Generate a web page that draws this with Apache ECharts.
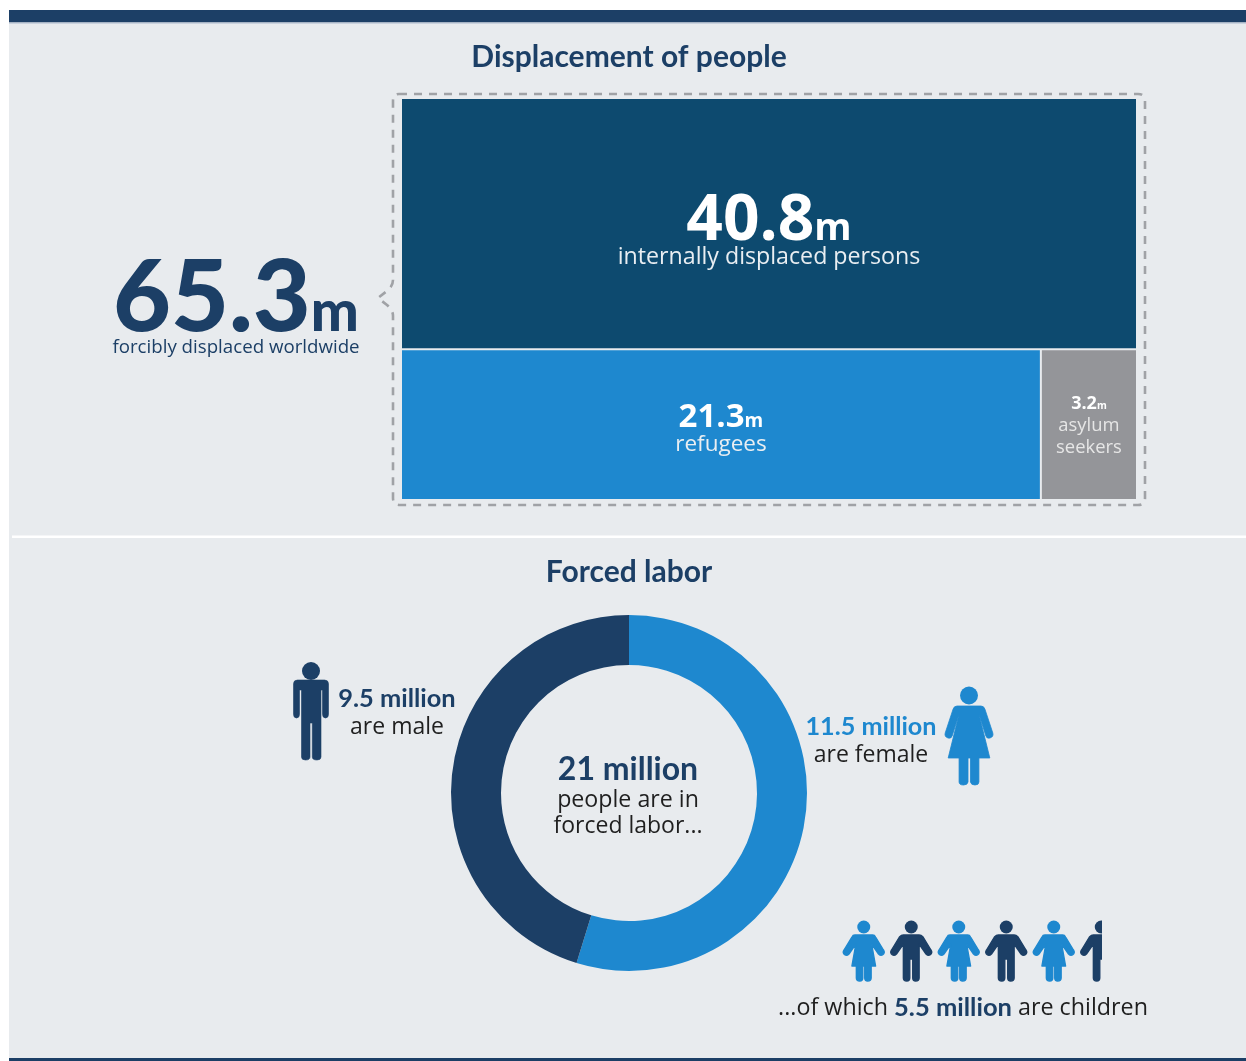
<!DOCTYPE html>
<html>
<head>
<meta charset="utf-8">
<title>Displacement of people and forced labor</title>
<script src="https://cdn.jsdelivr.net/npm/echarts@6/dist/echarts.min.js"></script>
<style>
  html, body { margin: 0; padding: 0; background: #fff; }
  #chart { width: 1246px; height: 1061px; }
</style>
</head>
<body>
<div id="chart"></div>
<script>
// Displacement figures, in millions
const displacedTotal = 65.3;
const displacementNames = ['internally displaced persons', 'refugees', 'asylum seekers'];
const displacementValues = [40.8, 21.3, 3.2];

// Forced labor figures, in millions
const laborTotal = 21;
const laborNames = ['are female', 'are male'];
const laborValues = [11.5, 9.5];
const childrenInLabor = 5.5;

const NAVY = '#1c3f66';
const BLUE = '#1e88cf';
const PETROL = '#0d4a6f';
const GREY = '#949599';
const PANEL = '#e8ebee';
const INK = '#1f1f1f';
const HEAD_FONT = 'Lato';
const BODY_FONT = '"Open Sans"';

const bottomRow = displacementValues[1] + displacementValues[2];

// Outlines for the pictograms and the dashed brace, each in page pixels
const manBody = 'M4 0H31Q35 0 35 4V34Q35 38 32 38Q29 38 29 34V10H27.5V77Q27.5 80 23.5 80Q18.8 80 18.8 77V43H16.5V77Q16.5 80 12 80Q8 80 8 77V10H6V34Q6 38 3 38Q0 38 0 34V4Q0 0 4 0Z';
const womanBody = 'M12 0H36Q39 0 40 3L48 27Q49 31 45 32Q42 33 41 30L34 8L45 52H34V76Q34 79 30 79Q26 79 25.5 76V52H23V76Q22.5 79 18.5 79Q14 79 14 76V52H3L14 8L7 30Q6 33 3 32Q-1 31 0 27L8 3Q9 0 12 0Z';
const boyBody = 'M-8 0H8Q10 0 12 2L20 15Q22 18 19 20Q17 21 15 19L8 9V43Q8 46 4.5 46Q1.5 46 1.5 43V24H-1.5V43Q-1.5 46 -4.5 46Q-8 46 -8 43V9L-15 19Q-17 21 -19 20Q-22 18 -20 15L-12 2Q-10 0 -8 0Z';
const girlBody = 'M-9 0H9Q11 0 12 2L20 15Q22 18 19 20Q17 21 15 19L8 9L12 31H7.5V43Q7.5 46 4 46Q1 46 1 43V31H-1V43Q-1 46 -4 46Q-7.5 46 -7.5 43V31H-12L-8 9L-15 19Q-17 21 -19 20Q-22 18 -20 15L-12 2Q-11 0 -9 0Z';
const braceOutline = 'M399 94H1138Q1145 94 1145 101V498Q1145 505 1138 505H400Q393 505 393 498V316Q393 310 387 305L378 298L387 291Q393 286 393 280V101Q393 94 399 94Z';

function pathEl(pathData, x, y, width, height, fill, thicken) {
  return {
    type: 'path',
    shape: { pathData, x, y, width, height, layout: 'cover' },
    style: { fill, stroke: fill, lineWidth: thicken, lineJoin: 'round' }
  };
}

function headEl(cx, cy, r, fill) {
  return { type: 'circle', shape: { cx, cy, r }, style: { fill } };
}

function textEl(text, x, y, font, fill) {
  return {
    type: 'text',
    x, y,
    style: { text, font, fill, align: 'center', verticalAlign: 'middle' }
  };
}

// Value followed by a smaller "m" sitting on the same baseline
function amountEl(value, x, y, numSize, unitSize, fill, family) {
  return {
    type: 'text',
    x, y,
    style: {
      text: '{n|' + value.toFixed(1) + '}{u|m}',
      align: 'center',
      verticalAlign: 'middle',
      rich: {
        n: { fontFamily: family, fontWeight: 700, fontSize: numSize, fill, verticalAlign: 'bottom' },
        u: {
          fontFamily: family, fontWeight: 700, fontSize: unitSize, fill, verticalAlign: 'bottom',
          padding: [0, 0, (numSize - unitSize) * 0.21, 0]
        }
      }
    }
  };
}

// Rectangles sized by area: the largest group spans the top, the other two share the row below
const blocks = [
  { x0: 0, x1: bottomRow, y0: bottomRow, y1: displacedTotal, fill: PETROL, idx: 0 },
  { x0: 0, x1: displacementValues[1], y0: 0, y1: bottomRow, fill: BLUE, idx: 1 },
  { x0: displacementValues[1], x1: bottomRow, y0: 0, y1: bottomRow, fill: GREY, idx: 2 }
];

function renderBlock(params, api) {
  const b = blocks[api.value(0)];
  const tl = api.coord([b.x0, b.y1]);
  const br = api.coord([b.x1, b.y0]);
  const x = tl[0] + 1, y = tl[1] + 1, w = br[0] - tl[0] - 2, h = br[1] - tl[1] - 2;
  const cx = x + w / 2, cy = y + h / 2;
  const value = displacementValues[b.idx];
  const name = displacementNames[b.idx];
  const children = [{ type: 'rect', shape: { x, y, width: w, height: h }, style: { fill: b.fill } }];
  if (b.idx === 0) {
    children.push(amountEl(value, cx, cy - 2, 64, 38, '#fff', BODY_FONT));
    children.push(textEl(name, cx, cy + 34, '400 23.2px ' + BODY_FONT, '#e9eef2'));
  } else if (b.idx === 1) {
    children.push(amountEl(value, cx, cy - 7, 33, 19, '#fff', BODY_FONT));
    children.push(textEl(name, cx, cy + 20, '400 22.5px ' + BODY_FONT, '#e9eef2'));
  } else {
    const words = name.split(' ');
    children.push(amountEl(value, cx, cy - 21, 18, 10, '#fff', BODY_FONT));
    children.push(textEl(words[0], cx, cy + 1, '400 18.4px ' + BODY_FONT, '#e6e6e6'));
    children.push(textEl(words[1], cx, cy + 23, '400 18.4px ' + BODY_FONT, '#e6e6e6'));
  }
  return { type: 'group', children };
}

// Row of children, one figure per million, cut off by the axis at the exact count
function renderChild(params, api) {
  const i = api.value(0);
  const cx = api.coord([i + 0.5, 0])[0];
  const fill = i % 2 === 0 ? BLUE : NAVY;
  return {
    type: 'group',
    children: [
      headEl(cx, 927, 6.5, fill),
      pathEl(i % 2 === 0 ? girlBody : boyBody, cx - 20.5, 935, 41, 46, fill, 1.4)
    ]
  };
}

// Dashed brace around the rectangles and the two large figures
function renderDecor() {
  return {
    type: 'group',
    children: [
      {
        type: 'path',
        shape: { pathData: braceOutline, x: 378, y: 94, width: 767, height: 411, layout: 'cover' },
        style: { fill: 'none', stroke: '#a0a2a6', lineWidth: 2.6, lineDash: [8, 7] }
      },
      headEl(311, 671, 9, NAVY),
      pathEl(manBody, 293.5, 680, 35, 80, NAVY, 0.6),
      headEl(969, 695.5, 9, BLUE),
      pathEl(womanBody, 945, 706, 48, 79, BLUE, 0.8)
    ]
  };
}

function pageText(text, x, y, font, fill) {
  return {
    type: 'text', x, y, z: 10,
    style: { text, font, fill, textAlign: 'center', textVerticalAlign: 'middle' }
  };
}

const chart = echarts.init(document.getElementById('chart'), null, { renderer: 'canvas' });

chart.setOption({
  animation: false,
  backgroundColor: '#ffffff',
  grid: [
    { left: 401, top: 98, width: 736, height: 402, show: false },
    { left: 840, top: 915, width: 47.5 * childrenInLabor, height: 72, show: false }
  ],
  xAxis: [
    { type: 'value', gridIndex: 0, min: 0, max: bottomRow, show: false },
    { type: 'value', gridIndex: 1, min: 0, max: childrenInLabor, show: false }
  ],
  yAxis: [
    { type: 'value', gridIndex: 0, min: 0, max: displacedTotal, show: false },
    { type: 'value', gridIndex: 1, min: 0, max: 1, show: false }
  ],
  graphic: [
    { type: 'rect', z: -10, shape: { x: 9, y: 10, width: 1237, height: 1051 }, style: { fill: PANEL } },
    { type: 'rect', z: -9, shape: { x: 9, y: 10, width: 1237, height: 12.5 }, style: { fill: NAVY } },
    { type: 'rect', z: -9, shape: { x: 9, y: 22.5, width: 1237, height: 1.5 }, style: { fill: '#c9d2de' } },
    { type: 'rect', z: -9, shape: { x: 9, y: 1058, width: 1237, height: 3 }, style: { fill: NAVY } },
    { type: 'rect', z: -9, shape: { x: 12, y: 535.5, width: 1234, height: 2.5 }, style: { fill: '#ffffff' } },
    pageText('Displacement of people', 629, 57, '700 30px ' + HEAD_FONT, NAVY),
    pageText('Forced labor', 629, 572, '700 30px ' + HEAD_FONT, NAVY),
    {
      type: 'text', x: 236, y: 299, z: 10,
      style: {
        text: '{n|' + displacedTotal.toFixed(1) + '}{u|m}',
        textAlign: 'center', textVerticalAlign: 'middle',
        rich: {
          n: { fontFamily: HEAD_FONT, fontWeight: 900, fontSize: 100, fill: NAVY, verticalAlign: 'bottom' },
          u: {
            fontFamily: HEAD_FONT, fontWeight: 900, fontSize: 57, fill: NAVY, verticalAlign: 'bottom',
            padding: [0, 0, 8, 0]
          }
        }
      }
    },
    pageText('forcibly displaced worldwide', 236, 348, '400 18.7px ' + BODY_FONT, NAVY),
    pageText(laborValues[1].toFixed(1) + ' million', 397, 699, '700 25.4px ' + HEAD_FONT, NAVY),
    pageText(laborNames[1], 397, 727, '400 23px ' + BODY_FONT, INK),
    pageText(laborValues[0].toFixed(1) + ' million', 871, 727, '700 25.2px ' + HEAD_FONT, BLUE),
    pageText(laborNames[0], 871, 755, '400 23px ' + BODY_FONT, INK),
    pageText(laborTotal + ' million', 628, 770, '700 32px ' + HEAD_FONT, NAVY),
    pageText('people are in', 628, 800, '400 23.2px ' + BODY_FONT, INK),
    pageText('forced labor...', 628, 826, '400 23px ' + BODY_FONT, INK),
    {
      type: 'text', x: 963, y: 1008, z: 10,
      style: {
        text: '{t|...of which }{b|' + childrenInLabor.toFixed(1) + ' million}{t| are children}',
        textAlign: 'center', textVerticalAlign: 'middle',
        rich: {
          t: { fontFamily: 'Open Sans', fontSize: 23.3, fill: INK },
          b: { fontFamily: HEAD_FONT, fontWeight: 700, fontSize: 25.5, fill: NAVY }
        }
      }
    }
  ],
  series: [
    {
      type: 'custom',
      coordinateSystem: 'none',
      silent: true,
      data: [0],
      renderItem: renderDecor
    },
    {
      type: 'custom',
      name: 'Displacement of people',
      xAxisIndex: 0,
      yAxisIndex: 0,
      silent: true,
      data: blocks.map(b => [b.idx]),
      encode: { x: 0 },
      renderItem: renderBlock
    },
    {
      type: 'pie',
      name: 'Forced labor',
      center: [629, 793],
      radius: [128, 178],
      startAngle: 90,
      clockwise: true,
      silent: true,
      label: { show: false },
      labelLine: { show: false },
      emphasis: { disabled: true },
      data: [
        { name: laborNames[0], value: laborValues[0], itemStyle: { color: BLUE } },
        { name: laborNames[1], value: laborValues[1], itemStyle: { color: NAVY } }
      ]
    },
    {
      type: 'custom',
      name: 'Children in forced labor',
      xAxisIndex: 1,
      yAxisIndex: 1,
      clip: true,
      silent: true,
      data: [0, 1, 2, 3, 4, 5].map(i => [i]),
      encode: { x: 0 },
      renderItem: renderChild
    }
  ]
});
</script>
</body>
</html>
